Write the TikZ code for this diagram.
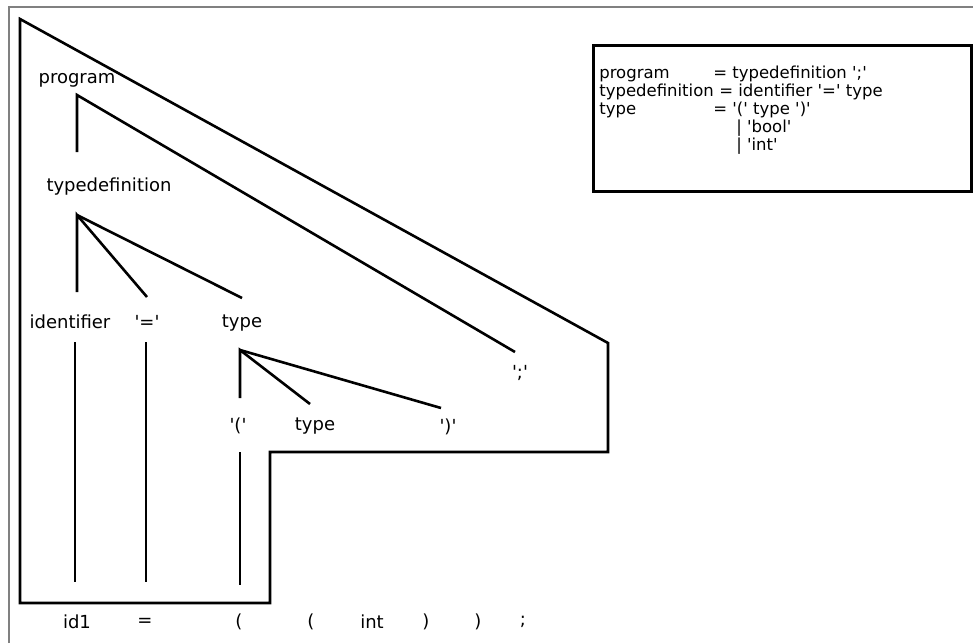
\documentclass[tikz,border=0pt]{standalone}
\usepackage{fontspec}
\setmainfont{DejaVu Sans}
\newcommand\lit[1]{\textquotesingle#1\textquotesingle}
\begin{document}
\begin{tikzpicture}[x=1pt, y=-1pt, line width=2.6pt]
\useasboundingbox (0,0) rectangle (973,643);
% window edge
\draw[gray, line width=2pt] (9,643) -- (9,7) -- (973,7);
% grammar
\node[draw, line width=3pt, minimum width=378pt, minimum height=146pt] (grammar) at (782,118) {};
\begin{scope}[every node/.style = {anchor=base west, inner sep=0pt, font=\fontsize{16.5}{18}\selectfont}]
\node (r1l) at (598,78) {program};
\node (r1r) at (712,78) {= typedefinition \lit{;}};
\node (r2l) at (598,96) {typedefinition};
\node (r2r) at (718,96) {= identifier \lit{=} type};
\node (r3l) at (598,114) {type};
\node (r3r) at (712,114) {= \lit{(} type \lit{)}};
\node (r4r) at (735,132) {| \lit{bool}};
\node (r5r) at (735,150) {| \lit{int}};
\end{scope}
% tree labels
\begin{scope}[every node/.style = {inner sep=0pt, font=\fontsize{18}{20}\selectfont}]
\node (program) at (77,80) {program};
\node (typedef) at (109,187) {typedefinition};
\node (ident) at (70,322) {identifier};
\node (eq) at (147,322) {\lit{=}};
\node (type) at (242,323) {type};
\node (lpar) at (238,426) {\lit{(}};
\node (inner) at (315,426) {type};
\node (rpar) at (448,427) {\lit{)}};
\node (semi) at (520,373) {\lit{;}};
% token stream
\node (tid) at (77,622) {id1};
\node (teq) at (145,622) {=};
\node (tlp) at (239,622) {(};
\node (tlp2) at (311,622) {(};
\node (tint) at (372,622) {int};
\node (trp) at (426,622) {)};
\node (trp2) at (478,622) {)};
\node (tsemi) at (523,622) {;};
\end{scope}
% branch points and line ends
\coordinate (p0) at (77,95);
\coordinate (p1) at (77,152);
\coordinate (p2) at (515,352);
\coordinate (d0) at (77,215);
\coordinate (d1) at (77,292);
\coordinate (d2) at (147,297);
\coordinate (d3) at (242,298);
\coordinate (t0) at (240,350);
\coordinate (t1) at (240,398);
\coordinate (t2) at (310,404);
\coordinate (t3) at (441,408);
\coordinate (i0) at (75,342);
\coordinate (i1) at (75,582);
\coordinate (e0) at (146,342);
\coordinate (e1) at (146,582);
\coordinate (l0) at (240,452);
\coordinate (l1) at (240,585);
\draw (p1) -- (p0) -- (p2);
\draw (d1) -- (d0) -- (d2);
\draw (d0) -- (d3);
\draw (t1) -- (t0) -- (t2);
\draw (t0) -- (t3);
\draw (i0) -- (i1);
\draw (e0) -- (e1);
\draw (l0) -- (l1);
% outline
\draw (20,19) -- (608,343) -- (608,452) -- (270,452) -- (270,603) -- (20,603) -- cycle;
\end{tikzpicture}
\end{document}
